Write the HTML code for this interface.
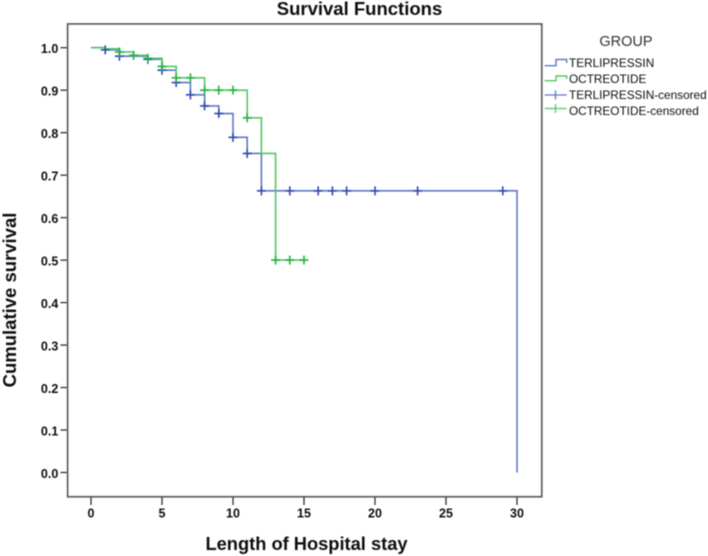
<!DOCTYPE html>
<html>
<head>
<meta charset="utf-8">
<title>Survival Functions</title>
<style>
html,body{margin:0;padding:0;background:#fff;width:708px;height:556px;overflow:hidden}
svg{display:block}
text{font-family:"Liberation Sans",sans-serif;fill:#111}
.soft{filter:url(#soften)}
</style>
</head>
<body>
<svg id="chart" width="708" height="556" viewBox="0 0 708 556" xmlns="http://www.w3.org/2000/svg">
<defs><filter id="soften" x="-5%" y="-5%" width="110%" height="110%"><feGaussianBlur stdDeviation="0.45"/></filter></defs>
<rect class="soft" x="67.7" y="24" width="474" height="472.7" fill="#fff" stroke="#5a5a5a" stroke-width="1.8"/>
<g class="soft">
<text x="359.5" y="15" text-anchor="middle" font-size="18.5" font-weight="700">Survival Functions</text>
<text x="306.5" y="550" text-anchor="middle" font-size="18.3" font-weight="700">Length of Hospital stay</text>
<text transform="translate(16,300) rotate(-90)" text-anchor="middle" font-size="18.5" font-weight="700">Cumulative survival</text>
<text x="626" y="46" text-anchor="middle" font-size="14.5" style="fill:#333">GROUP</text>
</g>
<g id="axes" class="soft"></g>
<g id="series" class="soft"></g>
<g id="legend" class="soft">
  <g>
    <path d="M544.7 65.7H556V59.5H566.7V63" fill="none" stroke="#5f78c4" stroke-width="1.4"/>
    <text x="569" y="67" font-size="11.8">TERLIPRESSIN</text>
  </g>
  <g>
    <path d="M544.7 80.7H556V76H566.7V79" fill="none" stroke="#55c765" stroke-width="1.4"/>
    <text x="569" y="83" font-size="11.8">OCTREOTIDE</text>
  </g>
  <g>
    <path d="M544.7 95H566.7M555.5 90.5V99.5" fill="none" stroke="#5f78c4" stroke-width="1.3"/>
    <text x="569" y="99" font-size="11.8">TERLIPRESSIN-censored</text>
  </g>
  <g>
    <path d="M544.7 108.5H566.7M555.5 104V113" fill="none" stroke="#55c765" stroke-width="1.3"/>
    <text x="569" y="115" font-size="11.8">OCTREOTIDE-censored</text>
  </g>
</g>
</svg>
<script>
const xTicks = [0, 5, 10, 15, 20, 25, 30];
const yTicks = [0.0, 0.1, 0.2, 0.3, 0.4, 0.5, 0.6, 0.7, 0.8, 0.9, 1.0];

const terlipressinTimes = [0, 1, 2, 4, 5, 6, 7, 8, 9, 10, 11, 12, 30];
const terlipressinSurvival = [1.0, 0.995, 0.98, 0.9725, 0.947, 0.918, 0.889, 0.863, 0.845, 0.789, 0.751, 0.663, 0.0];
const terlipressinCensoredTimes = [1, 2, 4, 5, 6, 7, 8, 9, 10, 11, 12, 14, 16, 17, 18, 20, 23, 29];

const octreotideTimes = [0, 1, 2, 3, 4, 5, 6, 8, 11, 12, 13, 15];
const octreotideSurvival = [1.0, 0.9975, 0.99, 0.982, 0.975, 0.956, 0.929, 0.9, 0.835, 0.751, 0.5, 0.5];
const octreotideCensoredTimes = [2, 3, 4, 5, 6, 7, 8, 9, 10, 11, 13, 14, 15];

const NS = 'http://www.w3.org/2000/svg';
function sx(t) { return 91 + t * 14.2; }
function sy(v) { return 472.5 - v * 424.8; }

function mk(tag, attrs, parent) {
  const el = document.createElementNS(NS, tag);
  for (const k in attrs) el.setAttribute(k, attrs[k]);
  parent.appendChild(el);
  return el;
}
function survivalAt(times, values, t) {
  let v = values[0];
  for (let i = 0; i < times.length; i++) if (times[i] <= t) v = values[i];
  return v;
}
function stepPath(times, values) {
  let d = 'M' + sx(times[0]) + ' ' + sy(values[0]);
  for (let i = 1; i < times.length; i++) {
    d += 'H' + sx(times[i]) + 'V' + sy(values[i]);
  }
  return d;
}

const axes = document.getElementById('axes');
const series = document.getElementById('series');

xTicks.forEach(function (t) {
  const tick = mk('line', {x1: sx(t), x2: sx(t), y1: 497, y2: 505, stroke: '#333', 'stroke-width': 1.3}, axes);
  
  
  const label = mk('text', {x: sx(t), y: 517.7, 'text-anchor': 'middle', 'font-size': 12.5, 'font-weight': 700}, axes);
  
  
  label.textContent = String(t);
});
yTicks.forEach(function (v) {
  const tick = mk('line', {x1: 60.5, x2: 67, y1: sy(v), y2: sy(v), stroke: '#333', 'stroke-width': 1.3}, axes);
  
  
  const label = mk('text', {x: 58.3, y: sy(v) + 5.5, 'text-anchor': 'end', 'font-size': 12.5, 'font-weight': 700}, axes);
  
  
  label.textContent = v.toFixed(1);
});

const terlipressinLine = mk('path', {d: stepPath(terlipressinTimes, terlipressinSurvival), fill: 'none', stroke: '#5f78c4', 'stroke-width': 1.6}, series);



const octreotideLine = mk('path', {d: stepPath(octreotideTimes, octreotideSurvival), fill: 'none', stroke: '#55c765', 'stroke-width': 1.6}, series);



terlipressinCensoredTimes.forEach(function (t) {
  const x = sx(t), y = sy(survivalAt(terlipressinTimes, terlipressinSurvival, t));
  const m = mk('path', {d: 'M' + (x - 4.5) + ' ' + y + 'H' + (x + 4.5) + 'M' + x + ' ' + (y - 4.5) + 'V' + (y + 4.5), fill: 'none', stroke: '#2f4ba8', 'stroke-width': 1.6}, series);
  
  
});
octreotideCensoredTimes.forEach(function (t) {
  const x = sx(t), y = sy(survivalAt(octreotideTimes, octreotideSurvival, t));
  const m = mk('path', {d: 'M' + (x - 4.5) + ' ' + y + 'H' + (x + 4.5) + 'M' + x + ' ' + (y - 4.5) + 'V' + (y + 4.5), fill: 'none', stroke: '#25b03f', 'stroke-width': 1.6}, series);
  
  
});
</script>
</body>
</html>
